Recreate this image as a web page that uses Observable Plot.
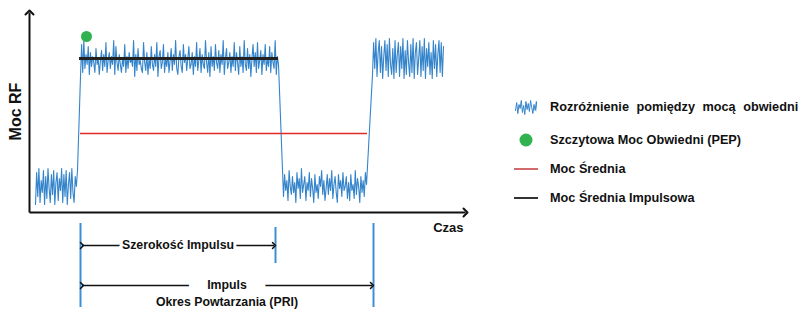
<!DOCTYPE html>
<html><head><meta charset="utf-8">
<script src="https://cdn.jsdelivr.net/npm/d3@7"></script>
<script src="https://cdn.jsdelivr.net/npm/@observablehq/plot@0.6"></script>
<style>
body{margin:0;background:#fff;font-family:"Liberation Sans",Arial,sans-serif;}
#wrap{position:relative;width:800px;height:321px;overflow:hidden;}
#chart{position:absolute;left:0;top:0;}
.row{position:absolute;left:513px;display:flex;align-items:center;height:22px;font-size:12.7px;font-weight:bold;color:#111;white-space:nowrap;}
.icon{width:26px;height:22px;display:flex;align-items:center;justify-content:center;margin-right:11px;}
</style></head><body>
<div id="wrap"><div id="chart"></div><div id="legend"></div></div>
<script>
// Signal power samples (RF power, 0 = axis, 100 = top of y axis)
const lowA = [4,20,8,22,5,16,10,21,4,18,7,22,12,5,19,9,21,4,15,20,6,17,11,22,5,19,8,21,4,14,20,7,22,10,5,18,13,21];
const highA = [
 68,84,70,86,72,79,74,83,69,80,73,78,75,70,82,74,77,69,76,81,
 71,79,73,85,70,76,80,72,78,74,86,69,83,75,71,79,74,70,77,73,
 84,70,78,72,80,75,77,73,86,68,79,71,82,74,76,72,70,85,75,71,
 80,69,77,72,83,74,71,79,73,85,68,78,81,72,75,84,70,77,73,80,
 70,76,82,71,79,74,86,72,69,78,81,73,70,84,75,79,71,77,83,72,
 74,80,69,78,73,85,71,76,82,70,79,74,72,86,75,70,80,68,83,73,
 78,71,84,75,72,81,70,79,74,86,69,77,82,72,75,80,70,78,73,85,
 71,80,75,69,83,73,78,70,86,74,71,82,72,79,68,77,84,73,80,70,
 85,72,76,81,69,79,74,84,71,77,73,83,70,80,75,72,86,69,78,74];
const lowB = [
 8,19,11,16,6,21,13,9,18,10,15,5,20,12,17,7,22,10,14,18,
 6,15,11,20,8,17,12,5,19,10,14,7,18,13,21,9,16,6,12,19,
 9,17,11,21,7,14,18,10,5,19,12,16,8,20,11,13,18,7,15,6,
 19,11,14,7,21,9,17,13,5,18,10,16,8,20,14];
const highB = [
 69,85,72,87,68,80,86,70,83,67,78,86,71,84,68,87,74,69,82,67,
 86,70,79,85,68,83,72,87,67,81,69,86,75,68,84,70,87,67,80,85,
 69,77,86,68,83,71,87,67,82,73,85,69,80,67,86,72,84,68,79,86,
 70,85,68,83];
const segments = [lowA, highA, lowB, highB];
const segStart = [6, 51, 254, 343];   // time of first sample in each segment
const segEnd   = [48, 249, 337, 414]; // time of last sample in each segment
const pulseTimes = [51, 246, 344];    // pulse start, pulse end, next pulse start
const pulseMean = 77;   // Moc Średnia Impulsowa
const avgPower = 39.5;  // Moc Średnia
const peakPower = 88;   // PEP
const peakTime = 57;
const legendNoise = [6,14,3,12,8,16,4,11,2,15,7,13,5,16,9,3,12,6,15,4];
const legendLabels = ["Rozróżnienie pomiędzy mocą obwiedni","Szczytowa Moc Obwiedni (PEP)","Moc Średnia","Moc Średnia Impulsowa"];
const texts = {y:"Moc RF", x:"Czas", width:"Szerokość Impulsu", pri1:"Impuls", pri2:"Okres Powtarzania (PRI)"};

const BLUE = "#3484cb", VBLUE = "#3c8fd3", GREEN = "#2fb24f", RED = "#e02a2a", BLACK = "#222";

const signal = segments.flatMap((vals, i) => vals.map((v, j) => ({
  t: segStart[i] + j * (segEnd[i] - segStart[i]) / (vals.length - 1), p: v})));

const chart = Plot.plot({
  width: 800, height: 321,
  marginLeft: 29, marginRight: 335, marginTop: 12, marginBottom: 109,
  x: {domain: [0, 436], axis: null},
  y: {domain: [0, 100], axis: null},
  style: {fontFamily: "'Liberation Sans', Arial, sans-serif", overflow: "visible"},
  marks: [
    Plot.lineY(signal, {x: "t", y: "p", stroke: BLUE, strokeWidth: 1.1}),
    Plot.ruleY([avgPower], {x1: pulseTimes[0], x2: segEnd[2] + 1, stroke: RED, strokeWidth: 1.5}),
    Plot.ruleY([pulseMean], {x1: segStart[1] - 1, x2: segEnd[1], stroke: BLACK, strokeWidth: 3}),
    Plot.dot([{t: peakTime, p: peakPower}], {x: "t", y: "p", r: 5.5, fill: GREEN, stroke: null}),
    // axes
    Plot.link([0], {x1: 0, y1: 0, x2: 436, y2: 0, stroke: "#111", strokeWidth: 2, markerEnd: "arrow"}),
    Plot.link([0], {x1: 0, y1: 0, x2: 0, y2: 100, stroke: "#111", strokeWidth: 2, markerEnd: "arrow"}),
    Plot.text([texts.y], {x: -14, y: 50.5, rotate: -90, fontSize: 16, fontWeight: "bold", fill: "#111"}),
    Plot.text([texts.x], {x: 436, y: -7.5, textAnchor: "end", dx: -2, fontSize: 13, fontWeight: "bold", fill: "#111"}),
    // annotation rules
    Plot.ruleX([pulseTimes[0], pulseTimes[2]], {y1: -5.5, y2: -47.5, stroke: VBLUE, strokeWidth: 2}),
    Plot.ruleX([pulseTimes[1]], {y1: -7.5, y2: -25.5, stroke: VBLUE, strokeWidth: 2}),
    // annotation arrows
    Plot.link([0], {x1: pulseTimes[0] + 1.5, x2: pulseTimes[1] - 1.5, y1: -16.5, y2: -16.5, stroke: "#111", strokeWidth: 1.5, markerStart: "arrow", markerEnd: "arrow"}),
    Plot.link([0], {x1: pulseTimes[0] + 1.5, x2: pulseTimes[2] - 1.5, y1: -36.5, y2: -36.5, stroke: "#111", strokeWidth: 1.5, markerStart: "arrow", markerEnd: "arrow"}),
    Plot.text([texts.width], {x: (pulseTimes[0] + pulseTimes[1]) / 2, y: -16.5, fontSize: 12.3, fontWeight: "bold", fill: "#111", stroke: "white", strokeWidth: 6, paintOrder: "stroke"}),
    Plot.text([texts.pri1], {x: (pulseTimes[0] + pulseTimes[2]) / 2, y: -36.5, fontSize: 12.3, fontWeight: "bold", fill: "#111", stroke: "white", strokeWidth: 38, paintOrder: "stroke"}),
    Plot.text([texts.pri2], {x: (pulseTimes[0] + pulseTimes[2]) / 2, y: -45, fontSize: 12.3, fontWeight: "bold", fill: "#111"})
  ]
});
document.getElementById("chart").appendChild(chart);

// legend
const legend = document.getElementById("legend");
const rowTops = [96, 129, 158, 187];
legendLabels.forEach((label, i) => {
  const row = document.createElement("div");
  row.className = "row";
  row.style.top = rowTops[i] + "px";
  if (i === 0) row.style.wordSpacing = "4px";
  const icon = document.createElement("div");
  icon.className = "icon";
  if (i === 0) {
    icon.appendChild(Plot.plot({width: 22, height: 18, margin: 0, x: {axis: null}, y: {axis: null, domain: [0, 18]},
      marks: [Plot.lineY(legendNoise, {stroke: BLUE, strokeWidth: 1})]}));
  } else {
    const ns = "http://www.w3.org/2000/svg";
    const svg = document.createElementNS(ns, "svg");
    svg.setAttribute("width", 26); svg.setAttribute("height", 22);
    if (i === 1) {
      const c = document.createElementNS(ns, "circle");
      c.setAttribute("cx", 13); c.setAttribute("cy", 11); c.setAttribute("r", 6.5); c.setAttribute("fill", GREEN);
      svg.appendChild(c);
    } else {
      const l = document.createElementNS(ns, "line");
      l.setAttribute("x1", 1); l.setAttribute("x2", 25); l.setAttribute("y1", 11); l.setAttribute("y2", 11);
      l.setAttribute("stroke", i === 2 ? "#c0393b" : "#333"); l.setAttribute("stroke-width", i === 2 ? 1.5 : 2);
      svg.appendChild(l);
    }
    icon.appendChild(svg);
  }
  row.appendChild(icon);
  const span = document.createElement("span");
  span.textContent = label;
  row.appendChild(span);
  legend.appendChild(row);
});
</script>
</body></html>
